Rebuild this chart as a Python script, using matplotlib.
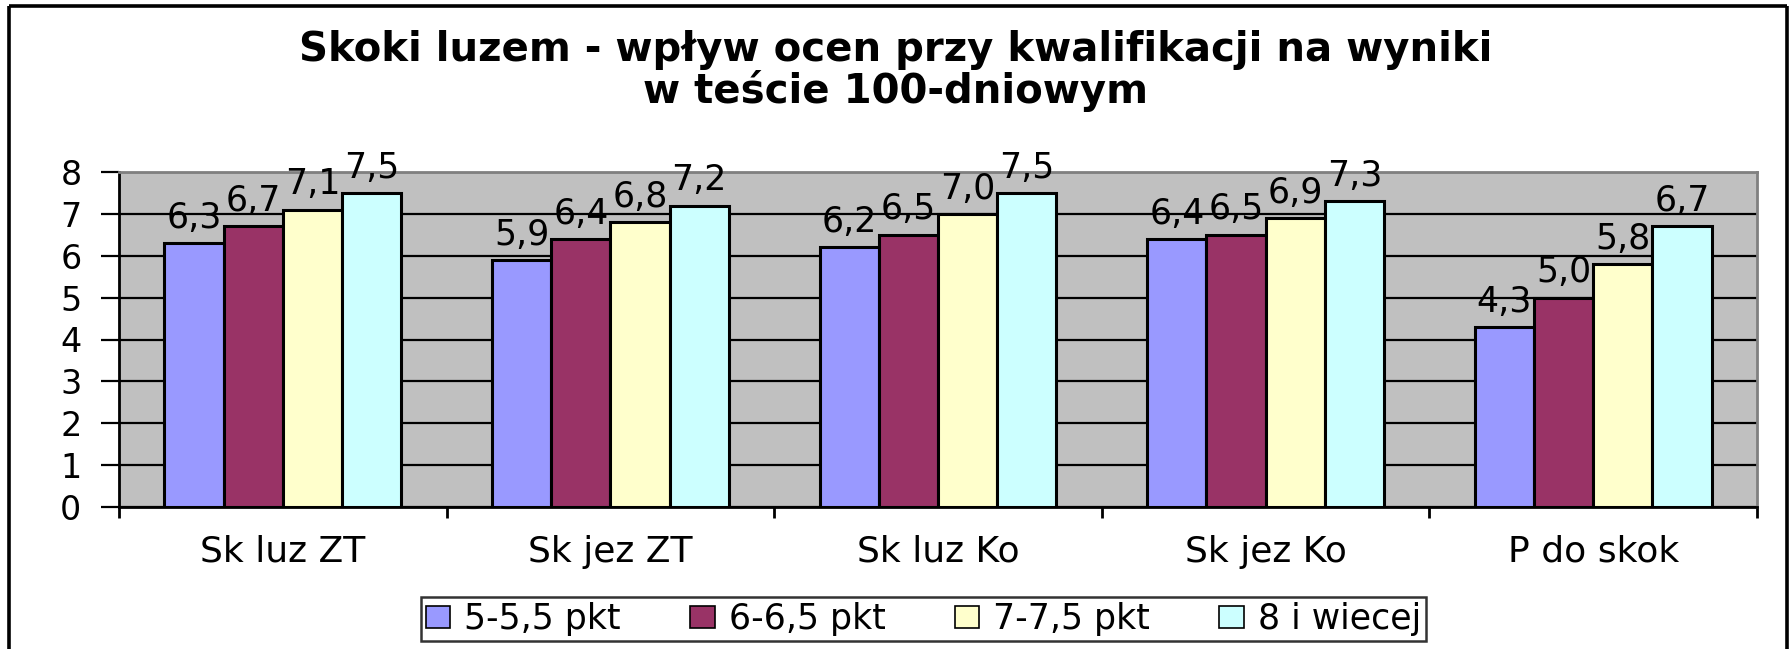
import matplotlib
matplotlib.use("Agg")
import matplotlib.pyplot as plt
import numpy as np
from matplotlib.lines import Line2D

categories = ["Sk luz ZT", "Sk jez ZT", "Sk luz Ko", "Sk jez Ko", "P do skok"]
series_names = ["5-5,5 pkt", "6-6,5 pkt", "7-7,5 pkt", "8 i wiecej"]
vals_5 = [6.3, 5.9, 6.2, 6.4, 4.3]
vals_6 = [6.7, 6.4, 6.5, 6.5, 5.0]
vals_7 = [7.1, 6.8, 7.0, 6.9, 5.8]
vals_8 = [7.5, 7.2, 7.5, 7.3, 6.7]
colors = ["#9999FF", "#993366", "#FFFFCC", "#CCFFFF"]
yticks = [0, 1, 2, 3, 4, 5, 6, 7, 8]
title = "Skoki luzem - wpływ ocen przy kwalifikacji na wyniki\nw teście 100-dniowym"

plt.rcParams['font.family'] = ['DejaVu Sans']

W, H = 1791, 649
fig = plt.figure(figsize=(W / 100, H / 100), dpi=100)
fig.patch.set_facecolor("white")

# outer frame (bottom edge is off-image)
frame_kw = dict(color="black", lw=2.6, transform=fig.transFigure, solid_capstyle="butt")
fig.add_artist(Line2D([9 / W, 9 / W], [0, 1 - 6 / H], **frame_kw))
fig.add_artist(Line2D([9 / W, 1787 / W], [1 - 6 / H, 1 - 6 / H], **frame_kw))
fig.add_artist(Line2D([1787 / W, 1787 / W], [0, 1 - 6 / H], **frame_kw))

ax = fig.add_axes([119 / W, 1 - 507 / H, (1757 - 119) / W, (507 - 172) / H])
ax.set_facecolor("#C0C0C0")

x = np.arange(len(categories))
w = 0.1806
all_vals = [vals_5, vals_6, vals_7, vals_8]
for i, (vals, c, name) in enumerate(zip(all_vals, colors, series_names)):
    pos = x + (i - 1.5) * w
    bars = ax.bar(pos, vals, width=w, color=c, edgecolor="black", linewidth=2.2,
                  label=name, zorder=3)
    for b, v in zip(bars, vals):
        ax.annotate(f"{v:.1f}".replace(".", ","),
                    (b.get_x() + b.get_width() / 2, b.get_height()),
                    xytext=(0, 6), textcoords="offset points",
                    ha="center", va="bottom", fontsize=25, color="black", zorder=5)

ax.set_xlim(-0.5, len(categories) - 0.5)
ax.set_ylim(0, 8)
ax.set_yticks(yticks)
ax.set_yticklabels([str(t) for t in yticks], fontsize=24)
ax.yaxis.grid(True, color="black", linewidth=1.6, zorder=1)
ax.set_axisbelow(True)

ax.set_xticks(x)
ax.set_xticklabels(categories, fontsize=26)
ax.set_xticks(np.arange(-0.5, len(categories)), minor=True)
ax.tick_params(axis="x", which="major", length=0, pad=20)
ax.tick_params(axis="x", which="minor", length=8, width=2, direction="out")
ax.tick_params(axis="y", length=13, width=1.6, direction="out", pad=14)

for s in ["left", "bottom"]:
    ax.spines[s].set_color("black")
    ax.spines[s].set_linewidth(2)
for s in ["top", "right"]:
    ax.spines[s].set_color("#808080")
    ax.spines[s].set_linewidth(2)

fig.text(0.5, 1 - 71 / H, title, ha="center", va="center", fontsize=29,
         fontweight="bold", linespacing=1.0)

leg = fig.legend(loc="center", ncol=4,
                 bbox_to_anchor=(923.5 / W, 1 - 619 / H),
                 borderaxespad=0, fontsize=25, frameon=True, fancybox=False,
                 handlelength=0.7, handleheight=0.6, handletextpad=0.4,
                 columnspacing=2.0, borderpad=0.15)
leg.get_frame().set_edgecolor("black")
leg.get_frame().set_linewidth(1.8)
for h in leg.legend_handles:
    h.set_linewidth(1.2)

fig.savefig("out.png", dpi=100)
